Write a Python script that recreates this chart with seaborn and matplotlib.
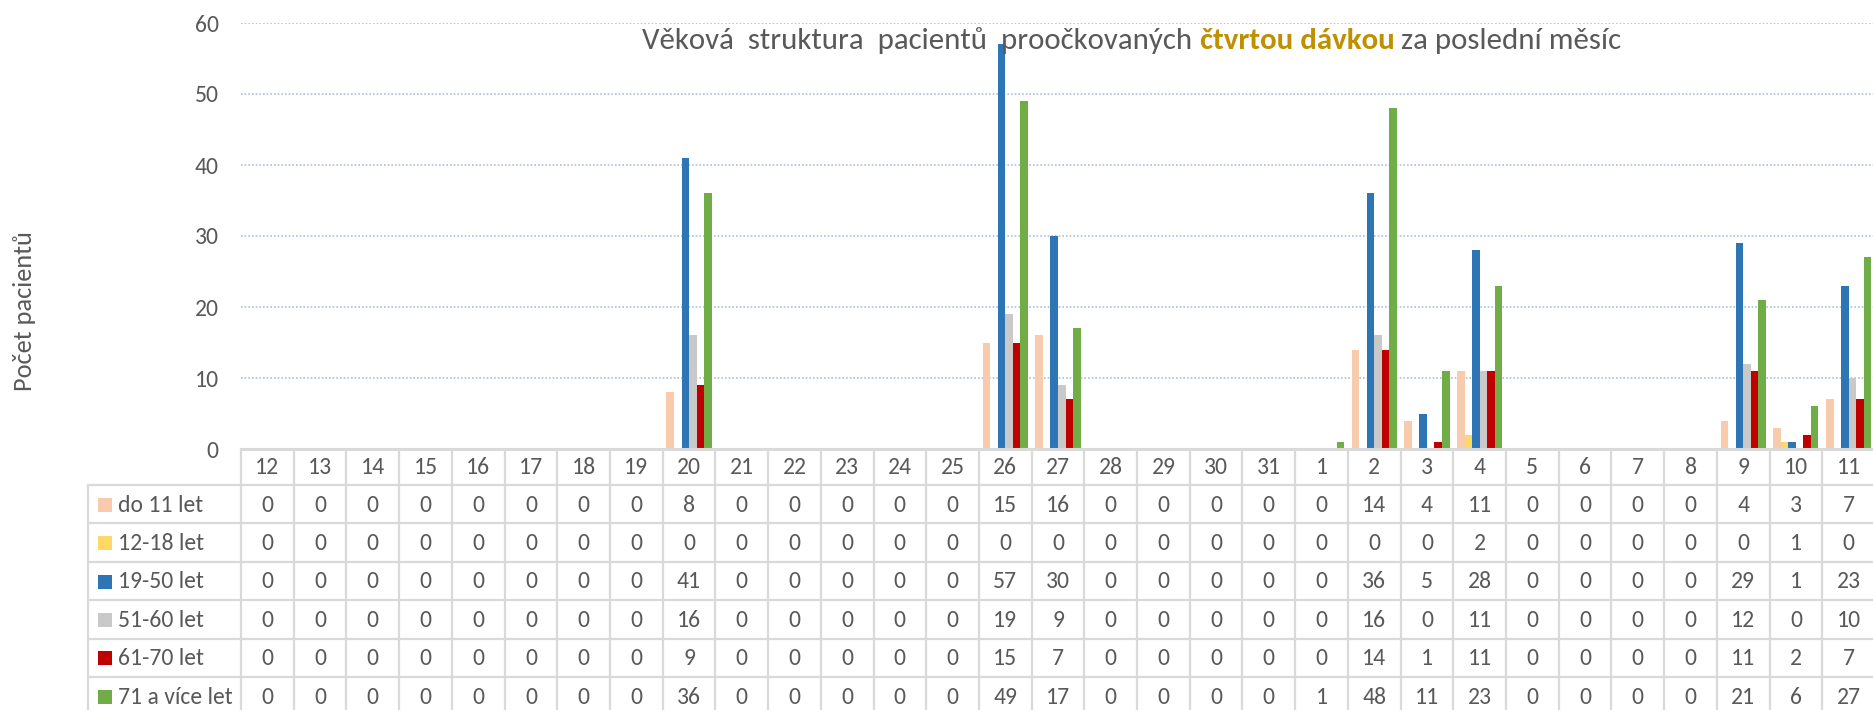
import numpy as np, pandas as pd
import matplotlib; matplotlib.use("Agg"); import matplotlib.pyplot as plt
from matplotlib import font_manager
from matplotlib.transforms import Affine2D
from matplotlib.lines import Line2D
from matplotlib.patches import Rectangle
import seaborn as sns

# dates (last month) and age groups
days = ["12", "13", "14", "15", "16", "17", "18", "19", "20", "21", "22", "23", "24", "25",
        "26", "27", "28", "29", "30", "31", "1", "2", "3", "4", "5", "6", "7", "8", "9", "10", "11"]
groups = ["do 11 let", "12-18 let", "19-50 let", "51-60 let", "61-70 let", "71 a více let"]

do_11   = [0, 0, 0, 0, 0, 0, 0, 0, 8, 0, 0, 0, 0, 0, 15, 16, 0, 0, 0, 0, 0, 14, 4, 11, 0, 0, 0, 0, 4, 3, 7]
v12_18  = [0, 0, 0, 0, 0, 0, 0, 0, 0, 0, 0, 0, 0, 0, 0, 0, 0, 0, 0, 0, 0, 0, 0, 2, 0, 0, 0, 0, 0, 1, 0]
v19_50  = [0, 0, 0, 0, 0, 0, 0, 0, 41, 0, 0, 0, 0, 0, 57, 30, 0, 0, 0, 0, 0, 36, 5, 28, 0, 0, 0, 0, 29, 1, 23]
v51_60  = [0, 0, 0, 0, 0, 0, 0, 0, 16, 0, 0, 0, 0, 0, 19, 9, 0, 0, 0, 0, 0, 16, 0, 11, 0, 0, 0, 0, 12, 0, 10]
v61_70  = [0, 0, 0, 0, 0, 0, 0, 0, 9, 0, 0, 0, 0, 0, 15, 7, 0, 0, 0, 0, 0, 14, 1, 11, 0, 0, 0, 0, 11, 2, 7]
v71plus = [0, 0, 0, 0, 0, 0, 0, 0, 36, 0, 0, 0, 0, 0, 49, 17, 0, 0, 0, 0, 1, 48, 11, 23, 0, 0, 0, 0, 21, 6, 27]
counts = [do_11, v12_18, v19_50, v51_60, v61_70, v71plus]

colors = ["#F8CBAD", "#FFD966", "#2E75B6", "#C9C9C9", "#C00000", "#70AD47"]

df = pd.DataFrame({"den": np.tile(days, len(groups)),
                   "vek": np.repeat(groups, len(days)),
                   "pocet": np.concatenate(counts)})

sns.set_theme(style="white")
avail = {f.name for f in font_manager.fontManager.ttflist}
base = "Carlito" if "Carlito" in avail else "Lato"
plt.rcParams["font.family"] = [base, "DejaVu Sans"]
TXT = "#595959"; LINE = "#D9D9D9"; GOLD = "#BF9000"
FS = 17

W, H = 1874, 710
fig = plt.figure(figsize=(W / 100, H / 100), dpi=100)
fig.patch.set_facecolor("white")
# pixel space, origin top-left
T = Affine2D().scale(1 / W, -1 / H).translate(0, 1) + fig.transFigure

x0, x1, y0, ytop = 241, 1875, 449, 23
ax = fig.add_axes([x0 / W, 1 - y0 / H, (x1 - x0) / W, (y0 - ytop) / H])
sns.barplot(data=df, x="den", y="pocet", hue="vek", order=days, hue_order=groups,
            palette=colors, width=0.855, saturation=1, errorbar=None, legend=False,
            linewidth=0, ax=ax)
ax.set_xlim(-0.5, len(days) - 0.5)
ax.set_ylim(0, 60)
ax.set_yticks(range(0, 61, 10))
ax.set_xticks([])
ax.set_xlabel(""); ax.set_ylabel("")
ax.tick_params(axis="y", length=0, pad=16, labelsize=FS, labelcolor=TXT)
for s in ["top", "right", "left"]:
    ax.spines[s].set_visible(False)
ax.spines["bottom"].set_color(LINE); ax.spines["bottom"].set_linewidth(2.2)
ax.yaxis.grid(True, linestyle=(0, (1, 1.2)), color="#A9BFE6", linewidth=1.2)
ax.set_axisbelow(True)
ax.set_facecolor("none")

# data table under the chart
col_w = (x1 - x0) / len(days)
hdr_bot, row_h, leg_x = 485, 38.4, 88
n_rows = len(groups)
tbl_bot = hdr_bot + n_rows * row_h
for r in range(n_rows + 1):
    yy = hdr_bot + r * row_h
    fig.add_artist(Line2D([leg_x, x1], [yy, yy], color=LINE, lw=1.6, transform=T))
for k in range(len(days) + 1):
    xx = x0 + k * col_w
    fig.add_artist(Line2D([xx, xx], [y0, tbl_bot], color=LINE, lw=1.6, transform=T))
fig.add_artist(Line2D([leg_x, leg_x], [hdr_bot, tbl_bot], color=LINE, lw=1.6, transform=T))

for k, d in enumerate(days):
    fig.text(x0 + (k + 0.5) * col_w, (y0 + hdr_bot) / 2 + 1, d, transform=T,
             ha="center", va="center", fontsize=FS, color=TXT)
for r, (g, vals, c) in enumerate(zip(groups, counts, colors)):
    yc = hdr_bot + (r + 0.5) * row_h
    fig.add_artist(Rectangle((98, yc - 6.5), 14, 14, color=c, transform=T, lw=0))
    fig.text(118, yc + 1, g, transform=T, ha="left", va="center", fontsize=FS, color=TXT)
    for k, v in enumerate(vals):
        fig.text(x0 + (k + 0.5) * col_w, yc + 1, str(v), transform=T,
                 ha="center", va="center", fontsize=FS, color=TXT)

# axis title
fig.text(25, 311, "Počet pacientů", transform=T, rotation=90, ha="center", va="center",
         fontsize=19, color=TXT)

# chart title in three runs
parts = [("Věková  struktura  pacientů  proočkovaných ", TXT, "normal"),
         ("čtvrtou dávkou", GOLD, "bold"),
         (" za poslední měsíc", TXT, "normal")]
TFS = 22.2
renderer = fig.canvas.get_renderer()
texts = [fig.text(0, 49, s, transform=T, fontsize=TFS, color=c, fontweight=w,
                  ha="left", va="baseline") for s, c, w in parts]
widths = [t.get_window_extent(renderer).width for t in texts]
xs = 1132 - sum(widths) / 2
for t, w in zip(texts, widths):
    t.set_x(xs)
    xs += w

fig.savefig("out.png", dpi=100, facecolor="white")
